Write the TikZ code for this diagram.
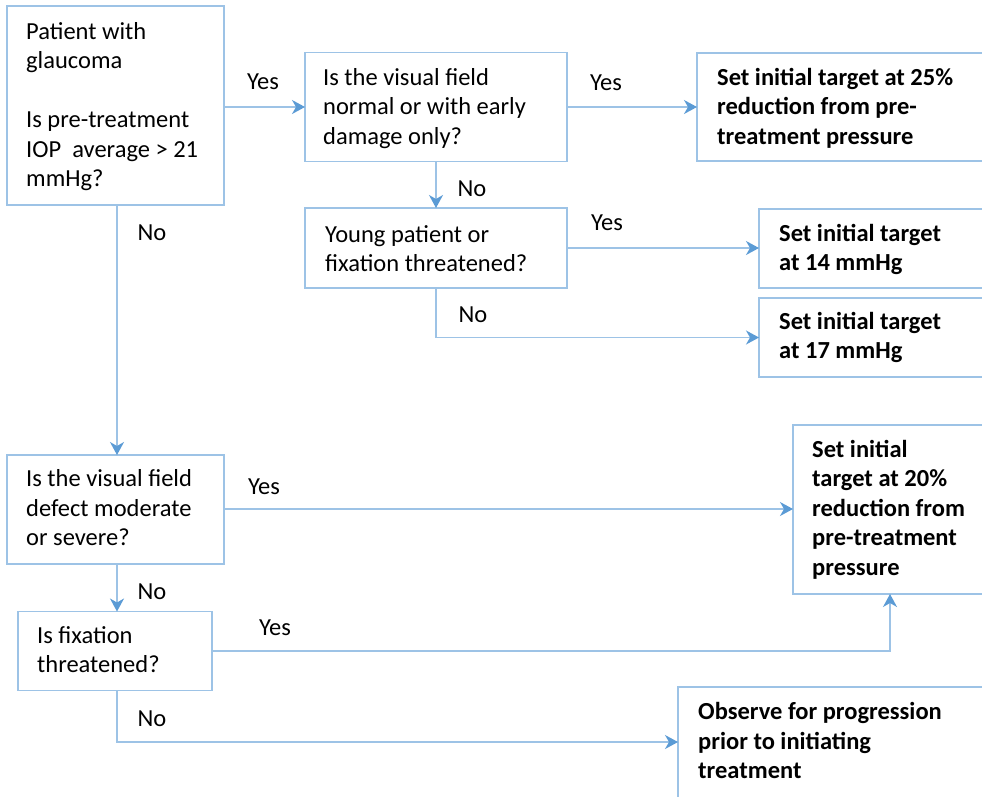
\documentclass[tikz,border=0pt]{standalone}
\usepackage{fontspec}
\setmainfont{Carlito}
\usetikzlibrary{arrows.meta}
\definecolor{lineblue}{RGB}{157,195,230}
\definecolor{tipblue}{RGB}{91,155,213}
\tikzset{
  box/.style={draw=lineblue, line width=1.3pt, rectangle, inner sep=0pt, outer sep=0pt, anchor=north west},
  openbox/.style={rectangle, inner sep=0pt, outer sep=0pt, anchor=north west},
  side/.style={draw=lineblue, line width=1.3pt},
  txt/.style={anchor=base west, inner sep=0pt, align=left, font=\fontsize{24.5}{29.5}\selectfont},
  btxt/.style={txt, font=\fontsize{24.5}{29.4}\selectfont\bfseries},
  lbl/.style={anchor=base, inner sep=0pt, font=\fontsize{24.5}{29.5}\selectfont},
  conn/.style={draw=lineblue, line width=1.3pt, -{Stealth[length=13pt, width=14pt, inset=4pt, color=tipblue]}},
}
\begin{document}
\begin{tikzpicture}[x=1pt, y=-1pt]
\useasboundingbox (0,0) rectangle (982,796);
\clip (0,0) rectangle (982,796);
\fill[white] (0,0) rectangle (982,796);
\coordinate (edge) at (1010,0);
\coordinate (floor) at (0,820);

% boxes
\node[box, minimum width=217pt, minimum height=199pt] (a) at (7,6) {};
\node[box, minimum width=262pt, minimum height=109pt] (b) at (305,52.5) {};
\node[openbox, minimum width=286pt, minimum height=108pt] (c) at (697,53) {};
\node[box, minimum width=262pt, minimum height=80pt] (d) at (305,208) {};
\node[openbox, minimum width=224pt, minimum height=79pt] (e) at (759,209) {};
\node[openbox, minimum width=224pt, minimum height=79pt] (f) at (759,298) {};
\node[box, minimum width=217pt, minimum height=109pt] (g) at (7,455) {};
\node[openbox, minimum width=194pt, minimum height=169pt] (h) at (793,425) {};
\node[box, minimum width=194pt, minimum height=79pt] (i) at (18,611.5) {};
\node[openbox, minimum width=305pt, minimum height=110pt] (j) at (678,687) {};

% sides of the boxes that run off the right or bottom edge
\draw[side] (c.north west -| edge) -- (c.north west) -- (c.south west) -- (c.south west -| edge);
\draw[side] (e.north west -| edge) -- (e.north west) -- (e.south west) -- (e.south west -| edge);
\draw[side] (f.north west -| edge) -- (f.north west) -- (f.south west) -- (f.south west -| edge);
\draw[side] (h.north west -| edge) -- (h.north west) -- (h.south west) -- (h.south west -| edge);
\draw[side] (j.north west -| edge) -- (j.north west) -- (j.north west |- floor);

% texts (anchored at the baseline of the last line)
\node[txt] (ta) at (26,186.5) {Patient with\\glaucoma\\[29.5pt]Is pre-treatment\\IOP\ \ average > 21\\mmHg?};
\node[txt] (tb) at (323,144) {Is the visual field\\normal or with early\\damage only?};
\node[btxt] (tc) at (717,144) {Set initial target at 25\%\\reduction from pre-\\treatment pressure};
\node[txt] (td) at (325,271.5) {Young patient or\\fixation threatened?};
\node[btxt] (te) at (779,270.7) {Set initial target\\at 14 mmHg};
\node[btxt] (tf) at (779,358.8) {Set initial target\\at 17 mmHg};
\node[txt] (tg) at (26,545.5) {Is the visual field\\defect moderate\\or severe?};
\node[btxt] (th) at (812,575) {Set initial\\target at 20\%\\reduction from\\pre-treatment\\pressure};
\node[txt] (ti) at (37,672.5) {Is fixation\\threatened?};
\node[btxt] (tj) at (698,778.5) {Observe for progression\\prior to initiating\\treatment};

% connectors
\draw[conn] (a.east |- b.west) -- (b.west);
\draw[conn] (b.east) -- (c.west);
\draw[conn] (b.south) -- (d.north);
\draw[conn] (d.east) -- (e.west |- d.east);
\draw[conn] (d.south) |- (f.west);
\draw[conn] ([xshift=1.5pt]a.south) -- ([xshift=1.5pt]g.north);
\draw[conn] ([yshift=0.5pt]g.east) -- ([yshift=0.5pt]h.west |- g.east);
\draw[conn] ([xshift=1.5pt]g.south) -- ([xshift=1.5pt]g.south |- i.north);
\draw[conn] (i.east) -| (h.south);
\draw[conn] ([xshift=1.5pt]g.south |- i.south) |- (j.west);

% labels
\node[lbl] (l1) at (263,89) {Yes};
\node[lbl] (l2) at (606,90) {Yes};
\node[lbl] (l3) at (472,196.5) {No};
\node[lbl] (l4) at (607,230.5) {Yes};
\node[lbl] (l5) at (473,322.5) {No};
\node[lbl] (l6) at (152,240.5) {No};
\node[lbl] (l7) at (264,494.5) {Yes};
\node[lbl] (l8) at (152,599.3) {No};
\node[lbl] (l9) at (275,635.5) {Yes};
\node[lbl] (l10) at (152,726.5) {No};
\end{tikzpicture}
\end{document}
